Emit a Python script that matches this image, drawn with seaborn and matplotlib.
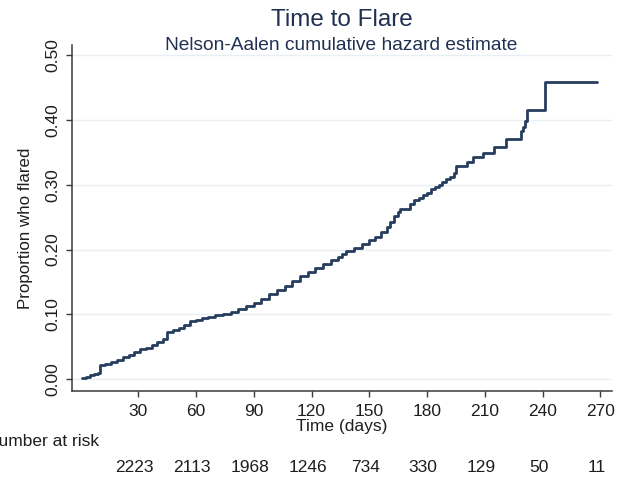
import matplotlib
matplotlib.use("Agg")
import matplotlib.pyplot as plt
import matplotlib.transforms as mtransforms
import seaborn as sns

# % Data
days = [1, 3, 5, 7, 9, 10, 13, 16, 19, 22, 25, 28, 31, 34, 37, 40, 43, 45,
        48, 51, 54, 57, 60, 63, 66, 70, 74, 78, 82, 86, 90, 94, 98, 102, 106,
        110, 114, 118, 122, 126, 130, 134, 136, 138, 142, 146, 150, 153, 156,
        159, 161, 163, 165, 166, 169, 171, 173, 176, 178, 180, 182, 184, 186,
        188, 190, 192, 194, 195, 201, 204, 209, 215, 221, 229, 230, 231, 232,
        241, 268]
hazard = [0.002, 0.004, 0.006, 0.008, 0.009, 0.022, 0.024, 0.026, 0.030,
          0.034, 0.038, 0.042, 0.046, 0.049, 0.053, 0.057, 0.062, 0.073,
          0.076, 0.079, 0.084, 0.090, 0.092, 0.094, 0.096, 0.099, 0.101,
          0.104, 0.108, 0.113, 0.118, 0.124, 0.131, 0.137, 0.144, 0.152,
          0.159, 0.166, 0.172, 0.178, 0.184, 0.188, 0.193, 0.197, 0.202,
          0.208, 0.214, 0.220, 0.227, 0.234, 0.243, 0.251, 0.258, 0.262,
          0.263, 0.270, 0.276, 0.280, 0.284, 0.287, 0.293, 0.296, 0.299,
          0.304, 0.308, 0.312, 0.318, 0.329, 0.335, 0.342, 0.349, 0.358,
          0.370, 0.382, 0.389, 0.398, 0.415, 0.458, 0.458]

risk_days = [30, 60, 90, 120, 150, 180, 210, 240, 270]
at_risk = [2223, 2113, 1968, 1246, 734, 330, 129, 50, 11]
y_ticks = [0.0, 0.1, 0.2, 0.3, 0.4, 0.5]

# % Style
sns.set_theme(style="white")
plt.rcParams["font.family"] = ["Liberation Sans", "DejaVu Sans"]
text_col = "#1f3050"
axis_col = "#3a3a3a"
label_col = "#1e1e1e"
fs = 12.5

fig = plt.figure(figsize=(6.2, 4.8), dpi=100)
ax = fig.add_axes([0.116, 0.186, 0.871, 0.72])

sns.lineplot(x=days, y=hazard, ax=ax, color="#263d5e", linewidth=2.0,
             drawstyle="steps-post", estimator=None)

ax.set_xlim(-4.4, 276)
ax.set_ylim(-0.0176, 0.515)
ax.set_xticks(risk_days)
ax.set_yticks(y_ticks)
ax.set_yticklabels([f"{v:.2f}" for v in y_ticks], rotation=90, va="center")
ax.yaxis.grid(True, color="#e8eff2", linewidth=1)
ax.xaxis.grid(False)

for side in ["top", "right"]:
    ax.spines[side].set_visible(False)
for side in ["left", "bottom"]:
    ax.spines[side].set_color(axis_col)
    ax.spines[side].set_linewidth(1.1)

ax.tick_params(axis="both", direction="out", length=4.5, width=1,
               color=axis_col, labelsize=fs, labelcolor=label_col)
ax.tick_params(axis="x", pad=5, bottom=True)
ax.tick_params(axis="y", pad=4, left=True)

ax.set_xlabel("Time (days)", fontsize=fs, color=label_col)
ax.xaxis.set_label_coords(0.5, -0.083)
ax.set_ylabel("Proportion who flared", fontsize=12.2, color=label_col)
ax.yaxis.set_label_coords(-0.072, 0.47)

fig.text(0.551, 1 - 20 / 480, "Time to Flare", ha="center", va="center",
         fontsize=17.5, color=text_col)
fig.text(0.551, 1 - 46 / 480, "Nelson-Aalen cumulative hazard estimate",
         ha="center", va="center", fontsize=13.8, color=text_col)

# number at risk table (left edge is clipped in the reference too)
fig.text(-0.022, 1 - 441 / 480, "Number at risk", ha="left", va="center",
         fontsize=fs, color=label_col)
trans = mtransforms.blended_transform_factory(ax.transData, fig.transFigure)
for d, n in zip(risk_days, at_risk):
    ax.text(d - 2, 1 - 468 / 480, str(n), transform=trans, ha="center",
            va="center", fontsize=fs, color=label_col, clip_on=False)

plt.savefig("out.png", dpi=100)
